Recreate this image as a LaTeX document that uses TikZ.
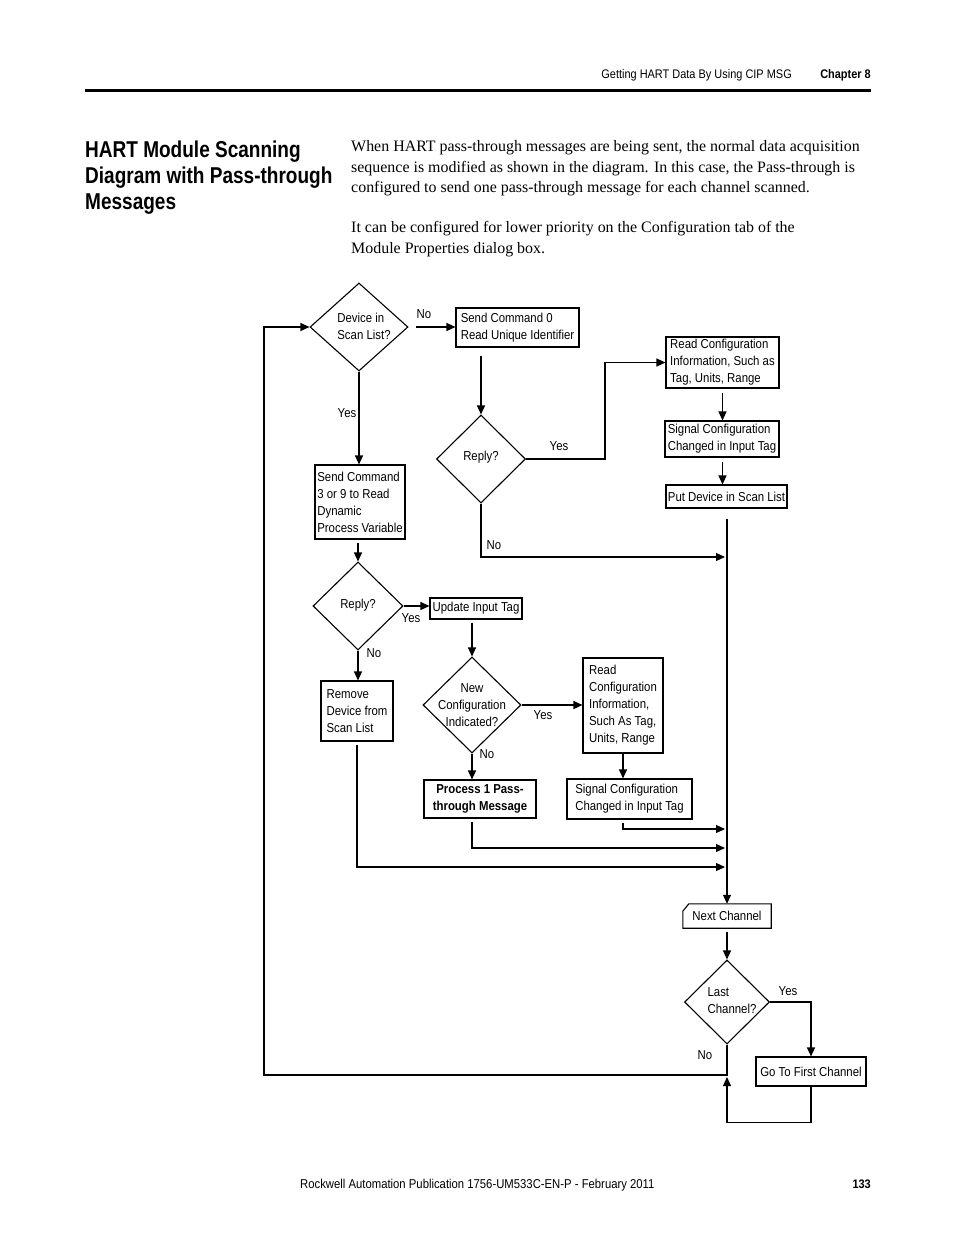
\documentclass[tikz,border=0pt]{standalone}
\usepackage{fontspec}
\setmainfont{Liberation Serif}
\newfontfamily\diagfont[FakeStretch=0.88]{Liberation Sans}
\newfontfamily\headfont[FakeStretch=0.83]{Liberation Sans}
\usetikzlibrary{arrows.meta,shapes.geometric}

\begin{document}
\begin{tikzpicture}[x=1bp,y=-1bp,
    every node/.style={inner sep=0pt},
    small/.style={font=\diagfont\fontsize{13}{17}\selectfont},
    box/.style={small, draw, line width=1.1bp, align=left},
    decision/.style={draw, diamond, line width=1.1bp},
    lbl/.style={small, align=left},
    arr/.style={line width=1.1bp, -{Triangle[length=9bp,width=8bp]}},
    plain/.style={line width=1.1bp},
    body/.style={anchor=base west, font=\fontsize{16}{20}\selectfont},
    title/.style={anchor=base west, font=\headfont\bfseries\fontsize{23}{26}\selectfont},
    pagetext/.style={font=\diagfont\fontsize{12.5}{15}\selectfont}]
    \useasboundingbox (0,0) rectangle (954,1235);

    % page header and footer
    \node[pagetext, anchor=base east] (running) at (792,78.5) {Getting HART Data By Using CIP MSG};
    \node[pagetext, anchor=base east, font=\diagfont\bfseries\fontsize{12.5}{15}\selectfont] (chapter) at (871,78.5) {Chapter 8};
    \draw[line width=3bp] (85,90) -- (871,90);
    \node[pagetext, anchor=base west, font=\diagfont\fontsize{12.9}{15}\selectfont] (publication) at (300,1188.5) {Rockwell Automation Publication 1756-UM533C-EN-P - February 2011};
    \node[pagetext, anchor=base east, font=\diagfont\bfseries\fontsize{12.5}{15}\selectfont] (pageno) at (871,1188.5) {133};

    % heading and text
    \node[title] (titleA) at (85,157) {HART Module Scanning};
    \node[title] (titleB) at (85,183) {Diagram with Pass-through};
    \node[title] (titleC) at (85,209) {Messages};
    \node[body] (paraA) at (351,151) {When HART pass-through messages are being sent, the normal data acquisition};
    \node[body] (paraB) at (351,172) {sequence is modified as shown in the diagram. In this case, the Pass-through is};
    \node[body] (paraC) at (351,192) {configured to send one pass-through message for each channel scanned.};
    \node[body] (paraD) at (351,232) {It can be configured for lower priority on the Configuration tab of the};
    \node[body] (paraE) at (351,253) {Module Properties dialog box.};

    % decisions
    \node[decision, minimum width=98bp, minimum height=88bp] (inscan) at (359,327) {};
    \node[lbl] (inscantxt) at (364,326) {Device in\\Scan List?};
    \node[decision, minimum width=89bp, minimum height=88bp] (replyA) at (481,459) {};
    \node[lbl] (replyAtxt) at (481,457) {Reply?};
    \node[decision, minimum width=90bp, minimum height=88bp] (replyB) at (358,606) {};
    \node[lbl] (replyBtxt) at (358,605) {Reply?};
    \node[decision, minimum width=98bp, minimum height=96bp] (newcfg) at (472,705) {};
    \node[lbl, align=center] (newcfgtxt) at (newcfg) {New\\Configuration\\Indicated?};
    \node[decision, minimum width=85bp, minimum height=84bp] (lastch) at (727,1002) {};
    \node[lbl] (lastchtxt) at (732,1001) {Last\\Channel?};

    % boxes
    \node[box, minimum width=123bp, minimum height=39bp] (cmdzero) at (517.5,327.5) {Send Command 0\\Read Unique Identifier};
    \node[box, minimum width=113bp, minimum height=51bp] (readcfgA) at (722.5,362.5) {Read Configuration\\Information, Such as\\Tag, Units, Range};
    \node[box, minimum width=114bp, minimum height=36bp] (sigcfgA) at (722,439) {Signal Configuration\\Changed in Input Tag};
    \node[box, minimum width=121bp, minimum height=23bp] (putdev) at (726.5,496.5) {Put Device in Scan List};
    \node[box, minimum width=90bp, minimum height=74bp] (cmdthree) at (360,502) {Send Command\\3 or 9 to Read\\Dynamic\\Process Variable};
    \node[box, minimum width=92bp, minimum height=21bp] (update) at (476,608.5) {Update Input Tag};
    \node[box, minimum width=72bp, minimum height=60bp] (remove) at (357,711) {Remove\\Device from\\Scan List};
    \node[box, align=center, font=\diagfont\bfseries\fontsize{13}{17}\selectfont, minimum width=112bp, minimum height=38bp] (passthru) at (480,799) {Process 1 Pass-\\through Message};
    \node[box, minimum width=80bp, minimum height=95bp] (readcfgB) at (623,705.5) {Read\\Configuration\\Information,\\Such As Tag,\\Units, Range};
    \node[box, minimum width=125bp, minimum height=40bp] (sigcfgB) at (629.5,799) {Signal Configuration\\Changed in Input Tag};
    \node[small, minimum width=88bp, minimum height=24bp] (nextch) at (727,916) {Next Channel};
    \draw[plain] (nextch.south west) -- ([yshift=17bp]nextch.south west) -- ([xshift=6bp]nextch.north west)
        -- (nextch.north east) -- (nextch.south east) -- cycle;
    \node[box, minimum width=110bp, minimum height=29bp] (firstch) at (811,1071.5) {Go To First Channel};

    % branch labels
    \node[lbl] (noA) at (424,314) {No};
    \node[lbl] (yesA) at (347,413) {Yes};
    \node[lbl] (yesB) at (559,446) {Yes};
    \node[lbl] (noB) at (494,545) {No};
    \node[lbl] (yesC) at (411,618) {Yes};
    \node[lbl] (noC) at (374,653) {No};
    \node[lbl] (yesD) at (543,715) {Yes};
    \node[lbl] (noD) at (487,754) {No};
    \node[lbl] (yesE) at (788,991) {Yes};
    \node[lbl] (noE) at (705,1055) {No};

    % junctions
    \coordinate (yesbend) at (605,459);
    \coordinate (trunktop) at (727,519);
    \coordinate (inA) at (725,557);
    \coordinate (inB) at (725,829);
    \coordinate (inC) at (725,848);
    \coordinate (inD) at (725,867);
    \coordinate (nojoin) at (727,1075);
    \coordinate (loopleft) at (264,1075);
    \coordinate (backjoin) at (727,1077);

    % connectors
    \draw[arr, shorten <=7bp] (inscan.east) -- (inscan.east -| cmdzero.west);
    \draw[arr, shorten <=8bp] (cmdzero.south -| replyA.north) -- (replyA.north);
    \draw[arr] (replyA.east) -- (yesbend) |- (readcfgA.west);
    \draw[arr, shorten <=4bp] (readcfgA.south) -- (readcfgA.south |- sigcfgA.north);
    \draw[arr, shorten <=4bp] (readcfgA.south |- sigcfgA.south) -- (readcfgA.south |- putdev.north);
    \draw[arr] (trunktop) -- (nextch.north);
    \draw[arr] (replyA.south) |- (inA);
    \draw[arr] (inscan.south) -- (inscan.south |- cmdthree.north);
    \draw[arr, shorten <=3bp] (replyB.north |- cmdthree.south) -- (replyB.north);
    \draw[arr] (replyB.east) -- (replyB.east -| update.west);
    \draw[arr] (replyB.south) -- (replyB.south |- remove.north);
    \draw[arr, shorten <=3bp] (newcfg.north |- update.south) -- (newcfg.north);
    \draw[arr] (newcfg.south) -- (newcfg.south |- passthru.north);
    \draw[arr] (newcfg.east) -- (newcfg.east -| readcfgB.west);
    \draw[arr] (readcfgB.south) -- (readcfgB.south |- sigcfgB.north);
    \draw[arr, shorten <=3bp] (readcfgB.south |- sigcfgB.south) |- (inB);
    \draw[arr, shorten <=3bp] (newcfg.south |- passthru.south) |- (inC);
    \draw[arr, shorten <=3bp] (remove.south) |- (inD);
    \draw[arr, shorten <=4bp] (nextch.south) -- (lastch.north);
    \draw[arr] (lastch.east) -| (firstch.north);
    \draw[arr] (lastch.south) -- (nojoin) -- (loopleft) |- (inscan.west);
    \draw[arr] (firstch.south) -- ++(0,36) -| (backjoin);
\end{tikzpicture}
\end{document}
